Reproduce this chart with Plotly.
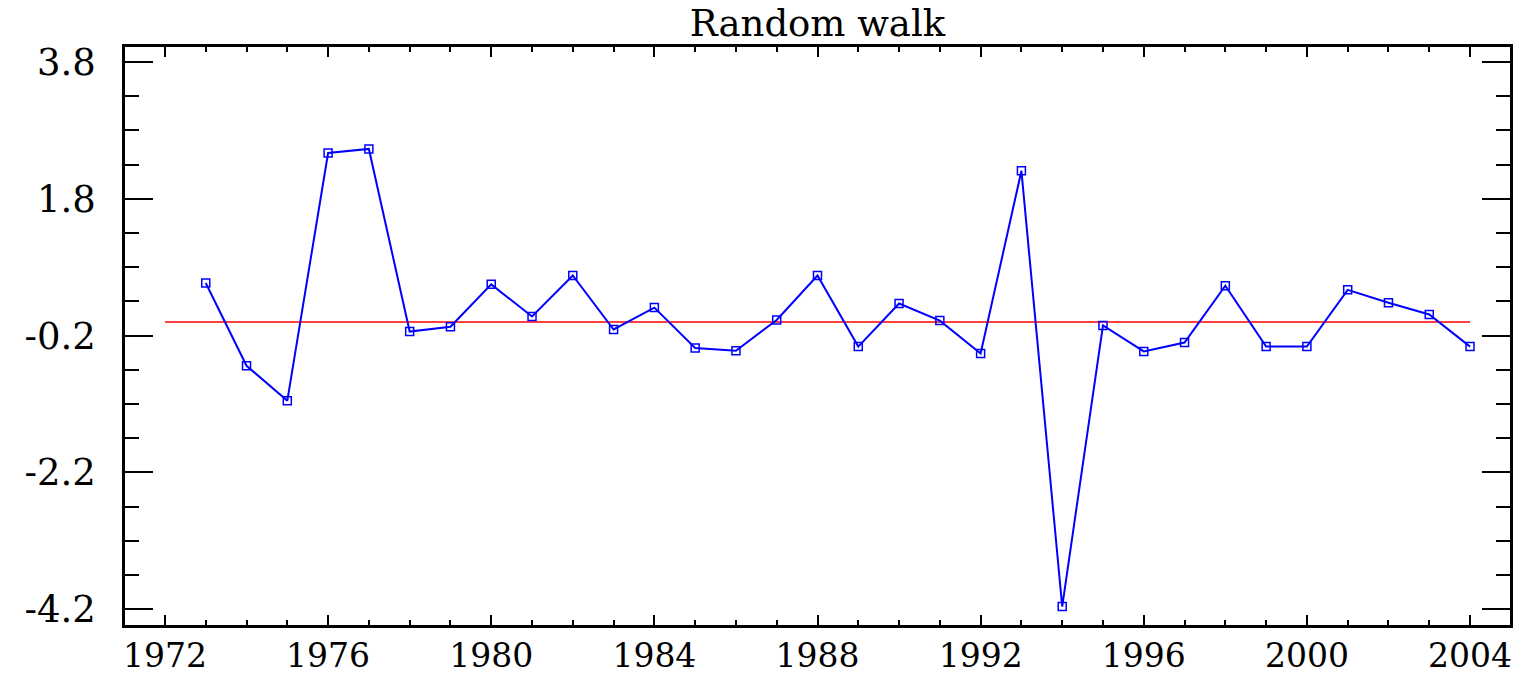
import plotly.graph_objects as go

years = list(range(1973, 2005))
values = [0.57, -0.64, -1.15, 2.47, 2.53, -0.14, -0.07, 0.55, 0.08, 0.68,
          -0.11, 0.21, -0.38, -0.42, 0.03, 0.68, -0.36, 0.27, 0.02, -0.46,
          2.21, -4.16, -0.05, -0.43, -0.30, 0.53, -0.36, -0.36, 0.47, 0.28,
          0.11, -0.36]
ref_years = [1972, 2004]
ref_level = [0.0, 0.0]
y_tickvals = [3.8, 1.8, -0.2, -2.2, -4.2]
y_ticktext = ["3.8", "1.8", "-0.2", "-2.2", "-4.2"]
title_text = "Random walk"

font_family = "DejaVu Serif"

fig = go.Figure()
fig.add_trace(go.Scatter(x=ref_years, y=ref_level, mode="lines",
                         line=dict(color="#ff0000", width=1.5),
                         showlegend=False, hoverinfo="skip"))
fig.add_trace(go.Scatter(x=years, y=values, mode="lines+markers",
                         line=dict(color="#0000ff", width=2),
                         marker=dict(symbol="square-open", size=8,
                                     color="#0000ff", line=dict(width=1.5)),
                         showlegend=False))

fig.update_layout(
    width=1526, height=677,
    margin=dict(l=125, r=16, t=47, b=52),
    paper_bgcolor="white", plot_bgcolor="white",
    title=dict(text=title_text, x=(125 + 1510) / 2 / 1526, xanchor="center",
               y=1 - 23 / 677, yanchor="middle",
               font=dict(family=font_family, size=37, color="black")),
    font=dict(family=font_family, color="black"),
)
fig.update_xaxes(
    range=[1971.02, 2004.98], tick0=1972, dtick=4,
    ticks="inside", ticklen=10, tickwidth=2, tickcolor="black",
    minor=dict(dtick=1, tick0=1972, ticks="inside", ticklen=5,
               tickwidth=2, tickcolor="black"),
    showline=True, linecolor="black", linewidth=2.5, mirror="allticks",
    showgrid=False, zeroline=False, automargin=False,
    tickfont=dict(family=font_family, size=33, color="black"),
    ticklabelstandoff=0,
)
fig.update_yaxes(
    range=[-4.43, 4.02], tickmode="array", tickvals=y_tickvals, ticktext=y_ticktext,
    ticks="inside", ticklen=28, tickwidth=2, tickcolor="black",
    minor=dict(dtick=0.5, tick0=-0.2, ticks="inside", ticklen=14,
               tickwidth=2, tickcolor="black"),
    showline=True, linecolor="black", linewidth=2.5, mirror="allticks",
    showgrid=False, zeroline=False, automargin=False,
    tickfont=dict(family=font_family, size=37, color="black"),
    ticklabelstandoff=19,
)

fig.write_html("out.html", config={"displayModeBar": False},
               post_script="document.body.style.margin='0';document.body.style.overflow='hidden';")
